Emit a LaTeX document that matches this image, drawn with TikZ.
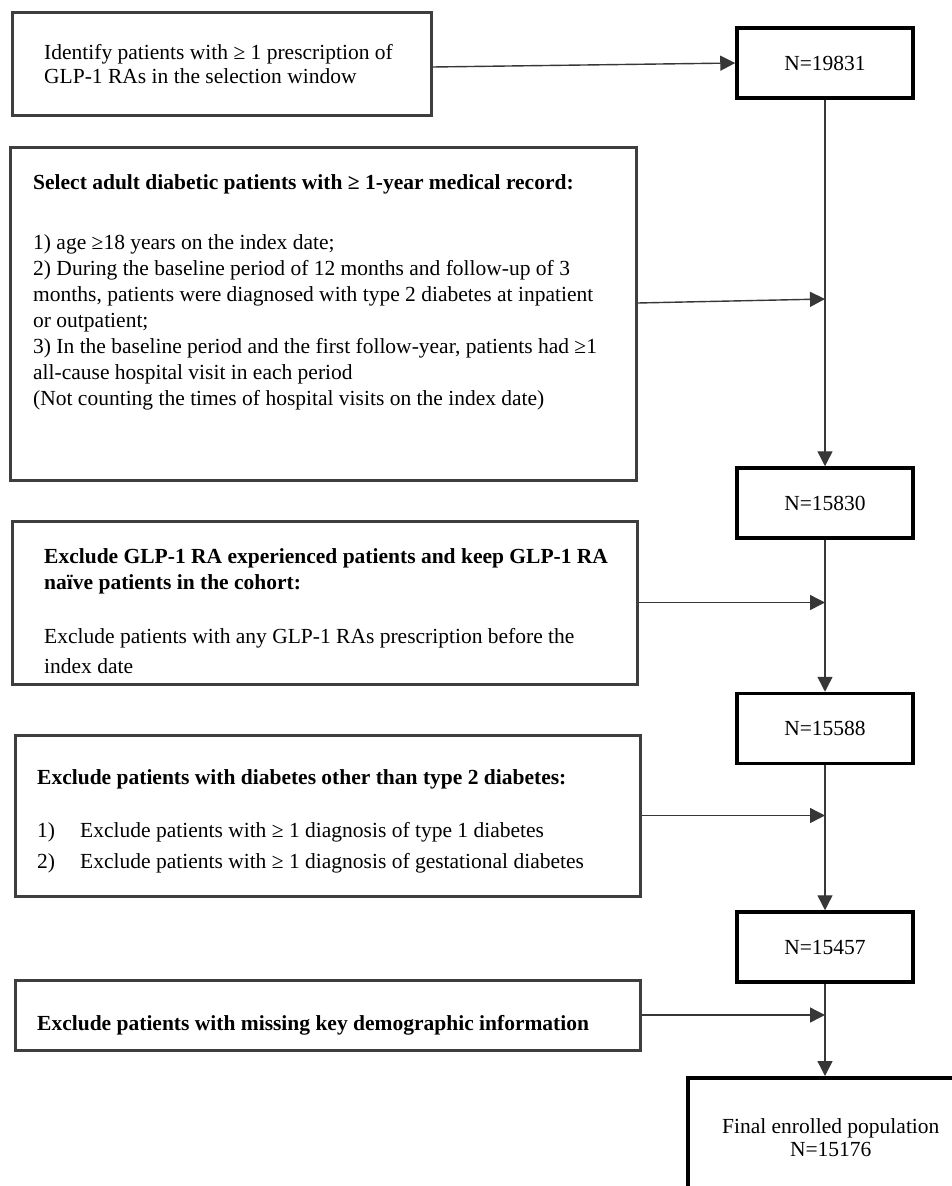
\documentclass[tikz,border=0pt]{standalone}
\usepackage{fontspec}
\setmainfont{Liberation Serif}
\usetikzlibrary{arrows.meta,positioning,calc}
\definecolor{framegray}{RGB}{62,62,62}
\definecolor{linkgray}{RGB}{55,55,55}

\tikzset{
  critbox/.style={draw=framegray, line width=3pt, inner sep=0pt},
  countbox/.style={draw=black, line width=3.5pt, minimum width=176pt, minimum height=70pt, font=\fontsize{21.5}{25}\selectfont},
  crittext/.style={anchor=north west, inner sep=0pt, align=left, font=\fontsize{21.5}{26}\selectfont},
  flow/.style={draw=linkgray, line width=1.4pt, -{Triangle[length=15pt,width=15pt]}},
}

\begin{document}
\begin{tikzpicture}[x=1pt,y=-1pt]
  \useasboundingbox (0,0) rectangle (951,1186);

  \node[countbox] (n1) at (825,63) {N=19831};
  \node[countbox] (n2) at (825,503) {N=15830};
  \node[countbox] (n3) at (825,728.5) {N=15588};
  \node[countbox] (n4) at (825,947) {N=15457};
  \node[countbox, minimum width=286pt, minimum height=120pt, align=center, anchor=north west] (final) at (686,1076) {Final enrolled population\\[-2pt]N=15176};

  \node[critbox, minimum width=419pt, minimum height=103pt] (ident) at (221.5,63.5) {};
  \node[critbox, minimum width=626pt, minimum height=333pt] (adult) at (323,313.5) {};
  \node[critbox, minimum width=625pt, minimum height=163pt] (naive) at (324.5,602.5) {};
  \node[critbox, minimum width=625pt, minimum height=161pt] (type2) at (327.5,815.5) {};
  \node[critbox, minimum width=625pt, minimum height=70pt] (demo) at (327.5,1015) {};

  \node[crittext] (identTxt) at (44,44) {Identify patients with ≥ 1 prescription of\\[-2pt]GLP-1 RAs in the selection window};
  \node[crittext] (adultTxt) at (33,174) {\bfseries Select adult diabetic patients with ≥ 1-year medical record:\\[34pt]
    1) age ≥18 years on the index date;\\
    2) During the baseline period of 12 months and follow-up of 3\\
    months, patients were diagnosed with type 2 diabetes at inpatient\\
    or outpatient;\\
    3) In the baseline period and the first follow-year, patients had ≥1\\
    all-cause hospital visit in each period\\
    (Not counting the times of hospital visits on the index date)};
  \node[crittext] (naiveTxt) at (44,548) {\bfseries Exclude GLP-1 RA experienced patients and keep GLP-1 RA\\
    \bfseries naïve patients in the cohort:\\[28pt]
    Exclude patients with any GLP-1 RAs prescription before the\\[4pt]
    index date};
  \node[crittext] (type2Txt) at (37,769) {\bfseries Exclude patients with diabetes other than type 2 diabetes:\\[27pt]
    \makebox[43pt][l]{1)}Exclude patients with ≥ 1 diagnosis of type 1 diabetes\\[5pt]
    \makebox[43pt][l]{2)}Exclude patients with ≥ 1 diagnosis of gestational diabetes};
  \node[crittext] (demoTxt) at (37,1015) {\bfseries Exclude patients with missing key demographic information};

  \draw[flow] (n1) -- (n2);
  \draw[flow] (n2) -- (n3);
  \draw[flow] (n3) -- (n4);
  \draw[flow] (n4) -- (n4 |- final.north);

  \draw[flow] ([yshift=-3.5pt]ident.east) -- (n1.west);
  \draw[flow] ([yshift=10.5pt]adult.east) -- ([yshift=14.5pt]adult.east -| n1.south);
  \draw[flow] (naive.east) -- (naive.east -| n2.south);
  \draw[flow] (type2.east) -- (type2.east -| n3.south);
  \draw[flow] (demo.east) -- (demo.east -| n4.south);

\end{tikzpicture}
\end{document}
